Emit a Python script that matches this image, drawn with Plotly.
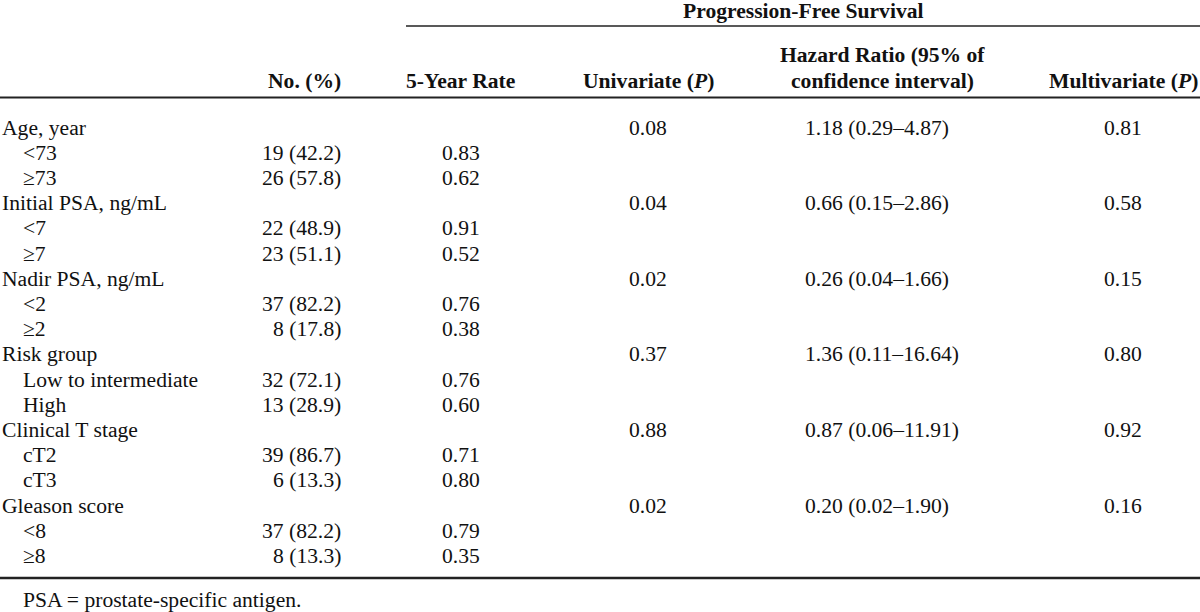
import plotly.graph_objects as go

# ---- data ----
variables = ["Age, year", "Initial PSA, ng/mL", "Nadir PSA, ng/mL",
             "Risk group", "Clinical T stage", "Gleason score"]
subgroups = [["&lt;73", "≥73"], ["&lt;7", "≥7"], ["&lt;2", "≥2"],
             ["Low to intermediate", "High"], ["cT2", "cT3"], ["&lt;8", "≥8"]]
counts = [[19, 26], [22, 23], [37, 8], [32, 13], [39, 6], [37, 8]]
percents = [[42.2, 57.8], [48.9, 51.1], [82.2, 17.8], [72.1, 28.9], [86.7, 13.3], [82.2, 13.3]]
rates = [[0.83, 0.62], [0.91, 0.52], [0.76, 0.38], [0.76, 0.60], [0.71, 0.80], [0.79, 0.35]]
univariate = [0.08, 0.04, 0.02, 0.37, 0.88, 0.02]
hazard = [1.18, 0.66, 0.26, 1.36, 0.87, 0.20]
ci_low = [0.29, 0.15, 0.04, 0.11, 0.06, 0.02]
ci_high = [4.87, 2.86, 1.66, 16.64, 11.91, 1.90]
multivariate = [0.81, 0.58, 0.15, 0.80, 0.92, 0.16]

col_headers = ["No. (%)", "5-Year Rate", "Univariate (<i>P</i>)",
               ["Hazard Ratio (95% of", "confidence interval)"], "Multivariate (<i>P</i>)"]
span_header = "Progression-Free Survival"
footnote = "PSA = prostate-specific antigen."

# ---- layout constants ----
W, H = 1200, 612
FONT = "Liberation Serif"
FS = 21.6
COLOR = "#111111"
Y0, DY = 127.5, 25.2
X_LABEL, X_INDENT = 1, 22
X_NO = 342          # right aligned
X_RATE = 461        # centered
X_UNI = 648         # centered
X_HR = 804          # left aligned
X_HR_HEAD = 882     # centered header
X_MULTI = 1123      # centered

ann = []


def add(text, x, y, anchor="left", bold=False, size=FS):
    ann.append(dict(
        text=f"<b>{text}</b>" if bold else text,
        x=x, y=y, xref="x", yref="y", xanchor=anchor, yanchor="middle",
        showarrow=False, borderpad=0,
        font=dict(family=FONT, size=size, color=COLOR),
    ))


# headers
add(span_header, 803, 10.5, "center", bold=True)
add(col_headers[0], X_NO, 81, "right", bold=True)
add(col_headers[1], X_RATE, 81, "center", bold=True)
add(col_headers[2], X_UNI, 81, "center", bold=True)
add(col_headers[3][0], X_HR_HEAD, 55, "center", bold=True)
add(col_headers[3][1], X_HR_HEAD, 81, "center", bold=True)
add(col_headers[4], X_MULTI, 81, "center", bold=True)

row = 0
for i, var in enumerate(variables):
    y = Y0 + row * DY
    add(var, X_LABEL, y, "left")
    add(f"{univariate[i]:.2f}", X_UNI, y, "center")
    add(f"{hazard[i]:.2f} ({ci_low[i]:.2f}–{ci_high[i]:.2f})", X_HR, y, "left")
    add(f"{multivariate[i]:.2f}", X_MULTI, y, "center")
    row += 1
    for j, sg in enumerate(subgroups[i]):
        y = Y0 + row * DY
        add(sg, X_INDENT, y, "left")
        add(f"{counts[i][j]} ({percents[i][j]:.1f})", X_NO, y, "right")
        add(f"{rates[i][j]:.2f}", X_RATE, y, "center")
        row += 1

add(footnote, 22, 599.5, "left")

shapes = [
    dict(type="line", xref="x", yref="y", x0=406, x1=1200, y0=26, y1=26,
         line=dict(color="#222222", width=1.5)),
    dict(type="line", xref="x", yref="y", x0=0, x1=1200, y0=97.5, y1=97.5,
         line=dict(color="#222222", width=2)),
    dict(type="line", xref="x", yref="y", x0=0, x1=1200, y0=578, y1=578,
         line=dict(color="#222222", width=2.5)),
]

fig = go.Figure(go.Scatter(x=[0, W], y=[0, H], mode="markers",
                           marker=dict(opacity=0), hoverinfo="skip", showlegend=False))
fig.update_layout(
    width=W, height=H, margin=dict(l=0, r=0, t=0, b=0),
    paper_bgcolor="white", plot_bgcolor="white",
    xaxis=dict(range=[0, W], visible=False, fixedrange=True),
    yaxis=dict(range=[H, 0], visible=False, fixedrange=True),
    annotations=ann, shapes=shapes, showlegend=False,
)
fig.write_html(
    "out.html",
    config={"displayModeBar": False},
    post_script="document.body.style.margin='0';document.body.style.overflow='hidden';",
)
